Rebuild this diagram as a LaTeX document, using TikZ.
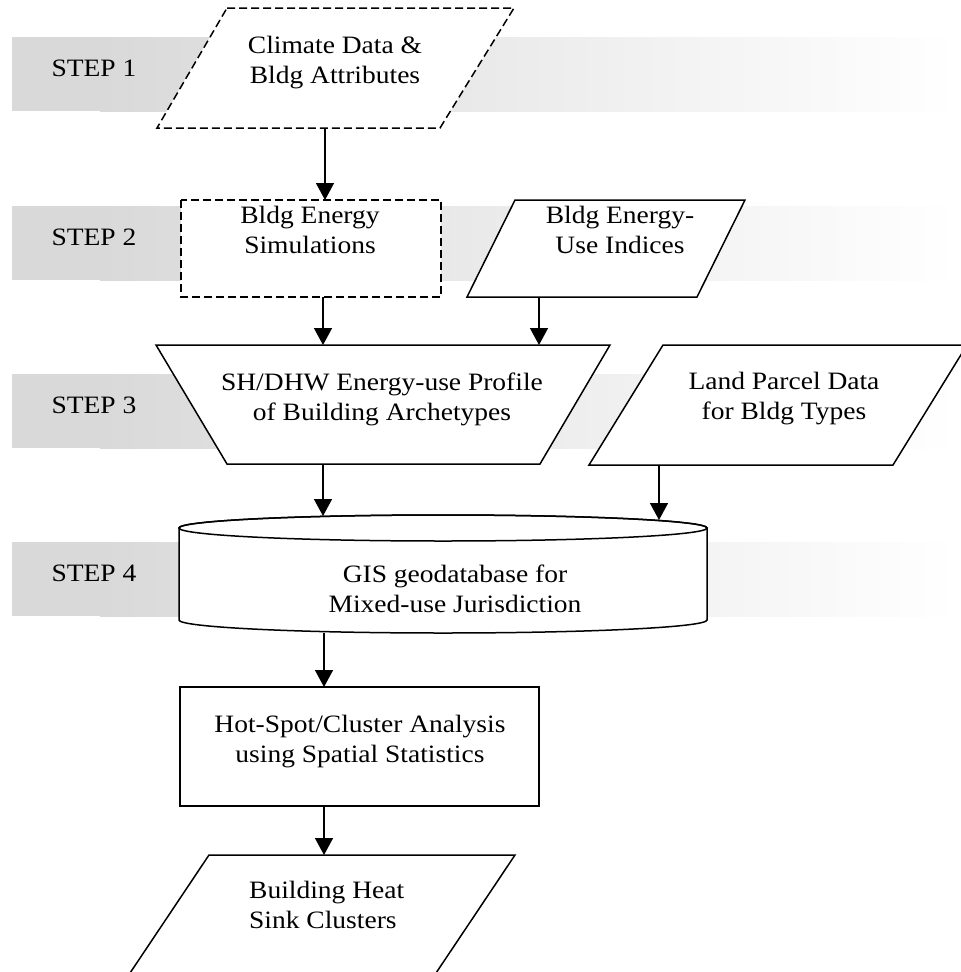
\documentclass[tikz,border=0pt]{standalone}
\usepackage{fontspec}
\setmainfont{Liberation Serif}[FakeStretch=1.1]
\usetikzlibrary{arrows.meta}
\definecolor{bandc}{RGB}{217,217,217}
\begin{document}
\begin{tikzpicture}[x=1pt,y=-1pt,
  shp/.style={draw=black,fill=white,line width=1.5pt,line join=miter},
  dsh/.style={dash pattern=on 8pt off 4pt},
  arr/.style={draw=black,line width=1.5pt,-{Triangle[width=18pt,length=17pt]}},
  txt/.style={font=\fontsize{25}{30}\selectfont,align=center,inner sep=0pt,anchor=base},
  steplbl/.style={font=\fontsize{25}{30}\selectfont,inner sep=0pt,anchor=base}]
\clip (0,0) rectangle (961,972);
\fill[white] (0,0) rectangle (961,972);
% bands
\foreach \t in {37,206,374,542}{
  \fill[bandc] (12,\t) rectangle (101,\t+74);
  \shade[left color=bandc,right color=white] (100,\t) rectangle (958,\t+74);
}
\node[steplbl] (s1) at (94,76) {STEP 1};
\node[steplbl] (s2) at (94,245) {STEP 2};
\node[steplbl] (s3) at (94,413) {STEP 3};
\node[steplbl] (s4) at (94,581) {STEP 4};
% shapes
\draw[shp,dsh] (227,8) -- (514,8) -- (440,128) -- (157,128) -- cycle;
\draw[shp,dsh] (181,200) rectangle (441,297);
\draw[shp] (515,200) -- (745,200) -- (697,297) -- (467,297) -- cycle;
\draw[shp] (156,345) -- (610,345) -- (540,464) -- (227,464) -- cycle;
\draw[shp] (663,345) -- (967,345) -- (893,465) -- (589,465) -- cycle;
\draw[shp] (179,528) -- (179,620) arc[start angle=180,end angle=0,x radius=264,y radius=13]
  -- (707,528) arc[start angle=0,end angle=-180,x radius=264,y radius=13] -- cycle;
\draw[line width=1.5pt] (443,528) ellipse[x radius=264,y radius=13];
\draw[shp] (180,687) rectangle (539,806);
\draw[shp] (209,855) -- (515,855) -- (428,985) -- (122,985) -- cycle;
% texts (anchored at the baseline of the last line)
\node[txt] (t1) at (335,83) {Climate Data \&\\Bldg Attributes};
\node[txt] (t2) at (310,253) {Bldg Energy\\Simulations};
\node[txt] (t3) at (620,253) {Bldg Energy-\\Use Indices};
\node[txt] (t4) at (382,420) {SH/DHW Energy-use Profile\\of Building Archetypes};
\node[txt] (t5) at (784,419) {Land Parcel Data\\for Bldg Types};
\node[txt] (t6) at (455,612) {GIS geodatabase for\\Mixed-use Jurisdiction};
\node[txt] (t7) at (360,762) {Hot-Spot/Cluster Analysis\\using Spatial Statistics};
\node[txt,anchor=base west,align=left] (t8) at (249,928) {Building Heat\\Sink Clusters};
% connector ends
\coordinate (c1b) at (325,128); \coordinate (c2t) at (325,200);
\coordinate (c2b) at (323,297); \coordinate (c4ta) at (323,345);
\coordinate (c3b) at (539,297); \coordinate (c4tb) at (539,345);
\coordinate (c4b) at (323,464); \coordinate (c6ta) at (323,516);
\coordinate (c5b) at (659,465); \coordinate (c6tb) at (659,520);
\coordinate (c6b) at (324,633); \coordinate (c7t) at (324,687);
\coordinate (c7b) at (324,806); \coordinate (c8t) at (324,855);
\draw[arr] (c1b) -- (c2t);
\draw[arr] (c2b) -- (c4ta);
\draw[arr] (c3b) -- (c4tb);
\draw[arr] (c4b) -- (c6ta);
\draw[arr] (c5b) -- (c6tb);
\draw[arr] (c6b) -- (c7t);
\draw[arr] (c7b) -- (c8t);
\end{tikzpicture}
\end{document}
